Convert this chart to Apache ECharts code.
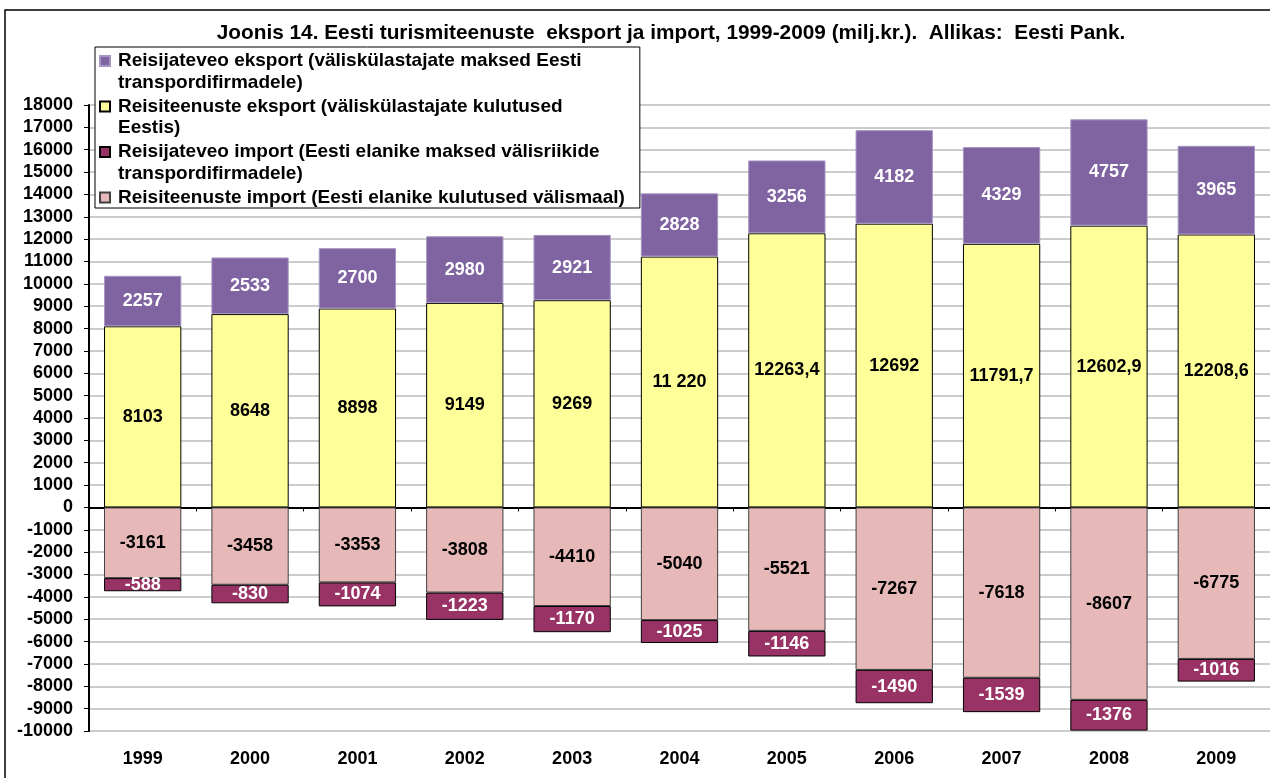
<!DOCTYPE html>
<html>
<head>
<meta charset="utf-8">
<script src="https://cdn.jsdelivr.net/npm/echarts@6/dist/echarts.min.js"></script>
<style>
  html, body { margin: 0; padding: 0; background: #fff; }
  #chart { width: 1270px; height: 778px; }
</style>
</head>
<body>
<div id="chart"></div>
<script>
// ---- data ----
const years = ['1999','2000','2001','2002','2003','2004','2005','2006','2007','2008','2009'];
const transportExport = [2257, 2533, 2700, 2980, 2921, 2828, 3256, 4182, 4329, 4757, 3965];
const travelExport = [8103, 8648, 8898, 9149, 9269, 11220, 12263.4, 12692, 11791.7, 12602.9, 12208.6];
const travelExportLabels = ['8103','8648','8898','9149','9269','11 220','12263,4','12692','11791,7','12602,9','12208,6'];
const transportImport = [-588, -830, -1074, -1223, -1170, -1025, -1146, -1490, -1539, -1376, -1016];
const travelImport = [-3161, -3458, -3353, -3808, -4410, -5040, -5521, -7267, -7618, -8607, -6775];

const nameTE = 'Reisijateveo eksport (väliskülastajate maksed Eesti transpordifirmadele)';
const nameRE = 'Reisiteenuste eksport (väliskülastajate kulutused Eestis)';
const nameTI = 'Reisijateveo import (Eesti elanike maksed välisriikide transpordifirmadele)';
const nameRI = 'Reisiteenuste import (Eesti elanike kulutused välismaal)';
const legendText = {};
legendText[nameTE] = 'Reisijateveo eksport (väliskülastajate maksed Eesti\ntranspordifirmadele)';
legendText[nameRE] = 'Reisiteenuste eksport (väliskülastajate kulutused\nEestis)';
legendText[nameTI] = 'Reisijateveo import (Eesti elanike maksed välisriikide\ntranspordifirmadele)';
legendText[nameRI] = 'Reisiteenuste import (Eesti elanike kulutused välismaal)\n ';

const titleText = 'Joonis 14. Eesti turismiteenuste  eksport ja import, 1999-2009 (milj.kr.).  Allikas:  Eesti Pank.';

// ---- chart ----
const FONT = '"Liberation Sans", Arial, sans-serif';
const LH = 21.75;
const chart = echarts.init(document.getElementById('chart'), null, { renderer: 'canvas' });

function lbl(color) {
  return {
    show: true, position: 'inside', color: color,
    fontFamily: FONT, fontWeight: 'bold', fontSize: 18
  };
}

const option = {
  backgroundColor: '#ffffff',
  animation: false,
  textStyle: { fontFamily: FONT },
  title: {
    text: titleText,
    left: 666, top: 18,
    textAlign: 'center',
    textStyle: { fontFamily: FONT, fontWeight: 'bold', fontSize: 20.8, color: '#000' }
  },
  graphic: [{
    type: 'rect', z: -10, silent: true,
    shape: { x: 5, y: 10, width: 1300, height: 800 },
    style: { fill: null, stroke: '#000', lineWidth: 1.5 }
  }],
  legend: {
    orient: 'vertical',
    left: 95, top: 47,
    padding: [2, 15, -23, 4],
    itemGap: 0,
    itemWidth: 13, itemHeight: 43.5,
    icon: 'path://M0,0M13,43.5M0,5.9L10,5.9L10,15.9L0,15.9Z',
    backgroundColor: '#fff', borderColor: '#000', borderWidth: 1,
    selectedMode: false,
    z: 10,
    textStyle: { fontFamily: FONT, fontWeight: 'bold', fontSize: 19, lineHeight: LH, color: '#000' },
    formatter: function (n) { return legendText[n] || n; },
    data: [nameTE, nameRE, nameTI, nameRI]
  },
  grid: { left: 89, right: 0, top: 105, bottom: 47, containLabel: false },
  xAxis: [{
    type: 'category',
    data: years,
    position: 'bottom',
    axisLine: { show: false, onZero: false },
    axisTick: { show: false },
    axisLabel: { color: '#000', fontFamily: FONT, fontWeight: 'bold', fontSize: 18, margin: 19 },
    splitLine: { show: false }
  }, {
    type: 'category',
    data: years,
    position: 'bottom',
    axisLine: { show: true, onZero: true, lineStyle: { color: '#000', width: 2 } },
    axisTick: { show: true, length: 4, lineStyle: { color: '#000' } },
    axisLabel: { show: false },
    splitLine: { show: false }
  }],
  yAxis: {
    type: 'value',
    min: -10000, max: 18000, interval: 1000,
    axisLine: { show: true, lineStyle: { color: '#000', width: 2 } },
    axisTick: { show: true, length: 5, lineStyle: { color: '#000' } },
    axisLabel: {
      color: '#000', fontFamily: FONT, fontWeight: 'bold', fontSize: 18, margin: 16,
      formatter: function (v) { return String(v); }
    },
    splitLine: { show: true, lineStyle: { color: '#BBBBBB', width: 1.5 } }
  },
  series: [
    {
      name: nameRE, type: 'bar', stack: 'total', data: travelExport,
      barCategoryGap: '28%',
      itemStyle: { color: '#FFFF99', borderColor: '#000', borderWidth: 1 },
      label: Object.assign(lbl('#000'), {
        formatter: function (p) { return travelExportLabels[p.dataIndex]; }
      })
    },
    {
      name: nameTE, type: 'bar', stack: 'total', data: transportExport,
      itemStyle: { color: '#8064A2', borderColor: '#A596C2', borderWidth: 1 },
      label: lbl('#fff')
    },
    {
      name: nameRI, type: 'bar', stack: 'total', data: travelImport,
      itemStyle: { color: '#E6B9B8', borderColor: '#404040', borderWidth: 1 },
      label: lbl('#000')
    },
    {
      name: nameTI, type: 'bar', stack: 'total', data: transportImport,
      itemStyle: { color: '#993366', borderColor: '#000', borderWidth: 1 },
      label: lbl('#fff')
    }
  ]
};
chart.setOption(option);
</script>
</body>
</html>
